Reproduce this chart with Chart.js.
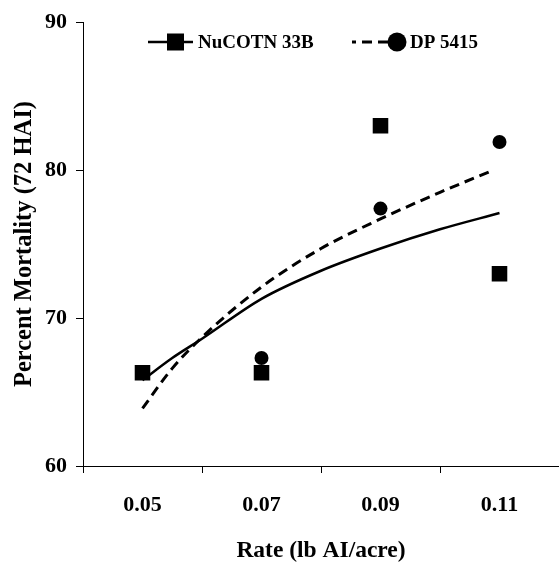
<!DOCTYPE html>
<html>
<head>
<meta charset="utf-8">
<script src="https://cdn.jsdelivr.net/npm/chart.js@4.4.1/dist/chart.umd.min.js"></script>
<style>
  body { margin: 0; background: #fff; }
  canvas { display: block; }
</style>
</head>
<body>
<canvas id="chart" width="559" height="570"></canvas>
<script>
// Observed data
const rates = [0.05, 0.07, 0.09, 0.11];
const nucotnValues = [66.3, 66.3, 83.0, 73.0];
const dpValues = [66.3, 67.3, 77.4, 81.9];

// Trend curves
const nucotnTrendX = [0.05, 0.055, 0.06, 0.07, 0.08, 0.09, 0.10, 0.11];
const nucotnTrendY = [65.8, 67.3, 68.6, 71.3, 73.2, 74.7, 76.0, 77.1];
const dpTrendX = [0.05, 0.055, 0.06, 0.07, 0.08, 0.09, 0.10, 0.109];
const dpTrendY = [63.9, 66.6, 68.7, 72.1, 74.7, 76.7, 78.5, 80.0];

const seriesNames = ['NuCOTN 33B', 'DP 5415'];
const xTickValues = [0.04, 0.05, 0.06, 0.07, 0.08, 0.09, 0.10, 0.11, 0.12];
const yTickValues = [60, 70, 80, 90];

const FONT = "'Liberation Serif', 'Times New Roman', serif";

const toPoints = (xs, ys) => xs.map((x, i) => ({ x: x, y: ys[i] }));
const isLabelled = v => rates.some(r => Math.abs(r - v) < 1e-6);

// Legend drawn inside the plot, like the original
const insideLegend = {
    id: 'insideLegend',
    afterDraw(chart) {
        const ctx = chart.ctx;
        const y = 42;
        ctx.save();
        ctx.fillStyle = '#000';
        ctx.strokeStyle = '#000';

        // NuCOTN 33B: solid line + square
        ctx.lineWidth = 2.5;
        ctx.beginPath();
        ctx.moveTo(148, y);
        ctx.lineTo(193, y);
        ctx.stroke();
        ctx.fillRect(167, y - 8.5, 17, 17);

        // DP 5415: dashed line + circle
        ctx.lineWidth = 3;
        ctx.setLineDash([10, 6]);
        ctx.lineDashOffset = 6;
        ctx.beginPath();
        ctx.moveTo(352, y);
        ctx.lineTo(390, y);
        ctx.stroke();
        ctx.setLineDash([]);
        ctx.beginPath();
        ctx.arc(397, y, 9.5, 0, Math.PI * 2);
        ctx.fill();

        ctx.font = 'bold 19px ' + FONT;
        ctx.textBaseline = 'middle';
        ctx.fillText(seriesNames[0], 198, y + 1);
        ctx.fillText(seriesNames[1], 410, y + 1);
        ctx.restore();
    }
};

new Chart(document.getElementById('chart'), {
    type: 'scatter',
    data: {
        datasets: [
            {
                label: seriesNames[0],
                data: toPoints(rates, nucotnValues),
                pointStyle: 'rect',
                pointRadius: 11,
                pointHoverRadius: 11,
                backgroundColor: '#000',
                borderColor: '#000',
                borderWidth: 0,
                order: 0
            },
            {
                label: seriesNames[1],
                data: toPoints(rates, dpValues),
                pointStyle: 'circle',
                pointRadius: 7,
                pointHoverRadius: 7,
                backgroundColor: '#000',
                borderColor: '#000',
                borderWidth: 0,
                order: 1
            },
            {
                label: seriesNames[0] + ' trend',
                data: toPoints(nucotnTrendX, nucotnTrendY),
                showLine: true,
                pointRadius: 0,
                borderColor: '#000',
                borderWidth: 2.5,
                cubicInterpolationMode: 'monotone',
                order: 2
            },
            {
                label: seriesNames[1] + ' trend',
                data: toPoints(dpTrendX, dpTrendY),
                showLine: true,
                pointRadius: 0,
                borderColor: '#000',
                borderWidth: 3,
                borderDash: [10, 6],
                cubicInterpolationMode: 'monotone',
                order: 3
            }
        ]
    },
    options: {
        responsive: false,
        animation: false,
        layout: { autoPadding: false, padding: { top: 20, right: 0, left: 0, bottom: 0 } },
        plugins: {
            legend: { display: false },
            tooltip: { enabled: false }
        },
        scales: {
            x: {
                type: 'linear',
                min: 0.04,
                max: 0.12,
                afterBuildTicks: scale => { scale.ticks = xTickValues.map(v => ({ value: v })); },
                afterFit: scale => {
                    scale.height = 104;
                    scale.paddingLeft = 0;
                    scale.paddingRight = 0;
                },
                border: { color: '#000', width: 1 },
                grid: {
                    drawOnChartArea: false,
                    tickLength: 7,
                    color: c => (c.tick && isLabelled(c.tick.value)) ? 'rgba(0,0,0,0)' : '#000'
                },
                ticks: {
                    autoSkip: false,
                    maxRotation: 0,
                    padding: 19,
                    color: '#000',
                    font: { family: FONT, size: 22, weight: 'bold' },
                    callback: v => isLabelled(v) ? v.toFixed(2) : ''
                },
                title: {
                    display: true,
                    text: 'Rate (lb AI/acre)',
                    color: '#000',
                    font: { family: FONT, size: 23.5, weight: 'bold' },
                    padding: { top: 0, bottom: 5 }
                }
            },
            y: {
                min: 60,
                max: 90,
                afterBuildTicks: scale => { scale.ticks = yTickValues.map(v => ({ value: v })); },
                afterFit: scale => { scale.width = 83; },
                border: { color: '#000', width: 1 },
                grid: { drawOnChartArea: false, tickLength: 7, color: '#000' },
                ticks: {
                    padding: 9,
                    color: '#000',
                    font: { family: FONT, size: 22, weight: 'bold' }
                },
                title: {
                    display: true,
                    text: 'Percent Mortality (72 HAI)',
                    color: '#000',
                    font: { family: FONT, size: 24.5, weight: 'bold' },
                    padding: { top: 10, bottom: 0 }
                }
            }
        }
    },
    plugins: [insideLegend]
});
</script>
</body>
</html>
